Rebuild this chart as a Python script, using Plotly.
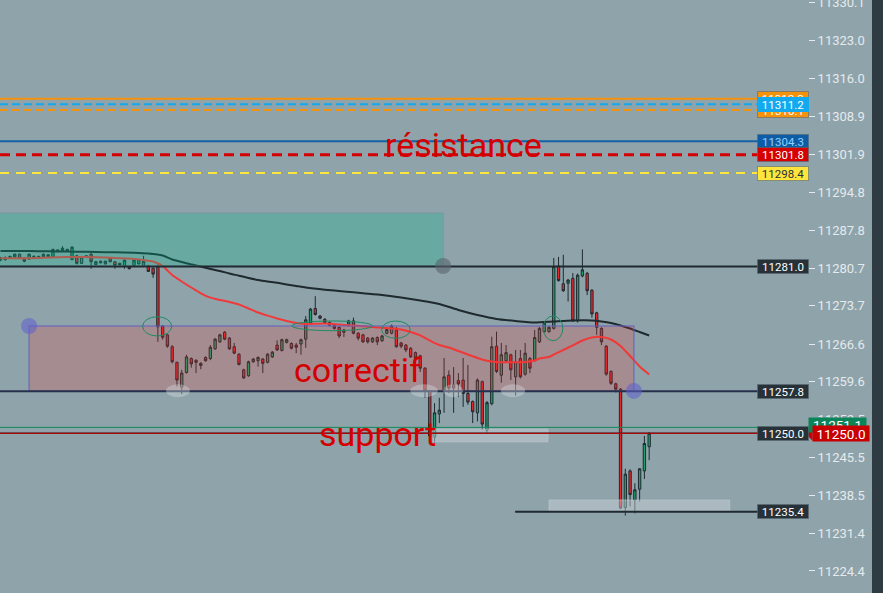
import plotly.graph_objects as go

# ---------------- data ----------------
opens = [
11282.2, 11282.3, 11282.6, 11282.8, 11283.3, 11282.6, 11282.4, 11282.5, 11282.9, 11282.8,
11282.8, 11282.8, 11284.1, 11283.9, 11283.9, 11282.3, 11283.0, 11281.6, 11282.7, 11283.3,
11281.4, 11282.0, 11281.5, 11282.6, 11281.9, 11281.6, 11281.2, 11280.9, 11281.2, 11281.5,
11281.1, 11281.2, 11280.7, 11281.0, 11269.95, 11268.3, 11266.1, 11263.2, 11258.6, 11261.3,
11263.9, 11263.6, 11262.6, 11264.1, 11263.9, 11265.7, 11267.0, 11268.8, 11267.7, 11266.1,
11264.7, 11261.8, 11260.7, 11263.3, 11263.5, 11263.8, 11263.2, 11264.2, 11266.4, 11265.4,
11266.9, 11266.7, 11266.4, 11266.6, 11267.5, 11270.5, 11273.2, 11271.8, 11271.2, 11270.1,
11270.0, 11269.7, 11268.8, 11270.3, 11270.9, 11268.6, 11268.3, 11267.7, 11267.0, 11267.8,
11267.2, 11268.6, 11268.6, 11269.2, 11266.8, 11266.4, 11265.8, 11265.0, 11264.4, 11262.1,
11257.9, 11249.3, 11253.6, 11258.1, 11260.8, 11259.0, 11259.8, 11259.9, 11257.4, 11255.9,
11253.8, 11259.6, 11250.6, 11255.5, 11266.2, 11260.8, 11263.5, 11264.6, 11260.5, 11263.9,
11261.0, 11263.9, 11263.6, 11267.0, 11268.9, 11268.9, 11269.5, 11281.1, 11277.8, 11277.9,
11278.8, 11270.9, 11279.25, 11279.75, 11276.6, 11272.4, 11269.5, 11266.2, 11261.5, 11259.2,
11258.2, 11236.2, 11243.0, 11237.6, 11239.6, 11243.0, 11247.5]

highs = [
11282.8, 11282.9, 11283.0, 11283.4, 11283.4, 11282.7, 11283.4, 11283.1, 11283.0, 11283.4,
11283.3, 11284.3, 11284.2, 11284.8, 11284.3, 11284.8, 11283.2, 11282.9, 11283.1, 11283.5,
11282.0, 11282.1, 11282.1, 11282.7, 11282.0, 11281.7, 11282.3, 11281.0, 11282.3, 11282.4,
11283.0, 11281.3, 11280.8, 11281.4, 11270.1, 11268.4, 11266.4, 11263.3, 11261.8, 11264.6,
11264.1, 11263.7, 11263.2, 11264.3, 11266.4, 11267.7, 11268.5, 11269.0, 11267.9, 11266.8,
11264.9, 11262.0, 11263.5, 11264.0, 11264.3, 11264.0, 11264.9, 11265.3, 11267.3, 11267.6,
11267.6, 11266.9, 11266.8, 11267.6, 11271.8, 11273.3, 11275.5, 11272.0, 11271.4, 11270.8,
11270.2, 11269.9, 11269.4, 11271.1, 11271.5, 11268.8, 11268.5, 11267.9, 11267.9, 11268.0,
11268.3, 11269.5, 11270.2, 11269.8, 11267.0, 11266.6, 11266.0, 11265.2, 11264.6, 11262.3,
11258.0, 11255.6, 11256.6, 11264.0, 11261.7, 11262.3, 11261.2, 11264.0, 11262.7, 11256.1,
11260.2, 11259.8, 11256.0, 11267.95, 11268.9, 11266.8, 11266.4, 11264.8, 11265.5, 11265.5,
11266.8, 11264.2, 11269.2, 11269.8, 11270.7, 11270.0, 11282.6, 11282.8, 11283.2, 11278.7,
11279.8, 11279.7, 11284.2, 11280.0, 11276.8, 11272.6, 11269.7, 11266.4, 11261.7, 11259.4,
11258.4, 11243.4, 11243.3, 11240.7, 11243.5, 11249.5, 11250.2]

lows = [
11282.0, 11282.1, 11282.5, 11282.7, 11282.4, 11281.8, 11282.3, 11282.4, 11282.4, 11282.7,
11282.7, 11282.7, 11283.7, 11283.8, 11283.8, 11282.2, 11281.4, 11281.5, 11282.6, 11280.6,
11281.3, 11281.6, 11281.4, 11281.8, 11280.6, 11281.2, 11280.6, 11280.5, 11281.1, 11281.4,
11281.0, 11280.0, 11278.9, 11267.0, 11267.4, 11265.9, 11263.0, 11258.7, 11257.3, 11261.1,
11262.2, 11261.2, 11261.9, 11263.3, 11263.6, 11265.5, 11266.8, 11267.3, 11265.5, 11264.7,
11262.6, 11260.1, 11260.5, 11263.1, 11262.4, 11261.2, 11263.0, 11264.0, 11265.3, 11265.2,
11266.7, 11265.6, 11264.9, 11264.6, 11265.9, 11270.2, 11271.9, 11271.2, 11270.4, 11269.9,
11269.3, 11267.7, 11267.9, 11269.8, 11268.4, 11267.3, 11266.8, 11266.7, 11266.8, 11266.4,
11267.0, 11268.4, 11268.4, 11265.9, 11265.8, 11265.1, 11264.0, 11263.7, 11261.4, 11256.6,
11248.5, 11248.3, 11251.9, 11253.8, 11257.5, 11253.8, 11256.8, 11254.9, 11255.3, 11251.9,
11252.2, 11250.6, 11250.1, 11255.2, 11261.2, 11259.4, 11263.2, 11259.9, 11257.0, 11260.2,
11260.7, 11261.2, 11263.3, 11266.8, 11268.7, 11268.7, 11269.3, 11278.2, 11276.3, 11274.5,
11270.7, 11270.6, 11279.0, 11275.7, 11271.5, 11268.3, 11266.4, 11260.7, 11259.0, 11257.6,
11235.9, 11234.7, 11236.4, 11235.1, 11237.3, 11241.5, 11245.0]

closes = [
11282.6, 11282.6, 11282.9, 11283.3, 11282.5, 11282.0, 11283.3, 11282.9, 11282.5, 11283.3,
11283.2, 11284.2, 11283.8, 11284.4, 11284.2, 11284.6, 11281.6, 11282.8, 11283.0, 11281.9,
11281.9, 11281.7, 11282.0, 11281.9, 11281.2, 11281.3, 11282.2, 11280.6, 11282.2, 11282.3,
11282.0, 11280.1, 11279.6, 11269.8, 11267.85, 11266.2, 11263.3, 11259.9, 11261.2, 11264.2,
11262.9, 11263.2, 11263.0, 11263.5, 11266.0, 11267.5, 11268.3, 11267.5, 11265.7, 11264.9,
11262.8, 11260.3, 11263.3, 11263.8, 11264.1, 11263.0, 11264.7, 11265.1, 11265.5, 11267.4,
11267.4, 11265.8, 11266.0, 11267.4, 11271.1, 11273.1, 11272.1, 11271.4, 11270.6, 11270.6,
11269.5, 11268.1, 11269.2, 11270.9, 11268.6, 11267.7, 11267.0, 11267.0, 11267.7, 11267.0,
11268.1, 11269.3, 11269.95, 11266.1, 11266.2, 11265.5, 11264.2, 11264.0, 11262.1, 11257.9,
11249.5, 11253.8, 11254.3, 11260.5, 11258.4, 11258.4, 11259.2, 11257.4, 11255.8, 11254.0,
11259.9, 11251.7, 11255.7, 11266.1, 11261.5, 11264.6, 11265.0, 11261.8, 11263.3, 11260.5,
11264.9, 11262.1, 11267.8, 11269.5, 11270.45, 11269.7, 11281.0, 11278.4, 11276.5, 11278.5,
11270.9, 11279.4, 11280.4, 11276.5, 11272.2, 11269.7, 11267.0, 11261.0, 11259.3, 11258.2,
11236.1, 11242.4, 11238.6, 11239.5, 11243.4, 11248.1, 11250.0]

bars = list(range(len(closes)))

ma_dark_idx = [0, 4, 8, 12, 16, 20, 24, 28, 31, 34, 36, 38, 40, 42, 44, 46, 48, 50, 52, 54, 56, 58,
               60, 62, 64, 68, 72, 76, 80, 84, 88, 92, 96, 100, 104, 108, 112, 116, 120, 124, 126,
               128, 130, 132, 134, 136]
ma_dark_val = [11283.90, 11283.90, 11283.86, 11283.81, 11283.77, 11283.71, 11283.66, 11283.58,
               11283.43, 11283.06, 11282.32, 11281.85, 11281.39, 11281.02, 11280.55, 11280.18,
               11279.72, 11279.31, 11278.88, 11278.51, 11278.23, 11277.99, 11277.67, 11277.39,
               11277.11, 11276.70, 11276.37, 11276.04, 11275.72, 11275.25, 11274.70, 11274.05,
               11272.93, 11272.00, 11271.26, 11270.88, 11270.60, 11270.79, 11270.97, 11270.97,
               11270.79, 11270.51, 11270.05, 11269.49, 11268.84, 11268.19]

ma_red_idx = [0, 4, 8, 12, 16, 20, 24, 28, 30, 32, 34, 35, 36, 38, 40, 42, 44, 46, 48, 50, 52, 54,
              56, 58, 60, 62, 64, 68, 72, 76, 80, 84, 86, 88, 90, 92, 94, 96, 98, 100, 102, 104,
              106, 108, 110, 112, 113, 115, 116, 118, 120, 122, 124, 126, 128, 130, 132, 134, 136]
ma_red_val = [11282.54, 11282.54, 11282.60, 11282.73, 11282.78, 11282.73, 11282.60, 11282.41,
              11282.22, 11281.95, 11281.11, 11280.27, 11279.44, 11278.23, 11277.11, 11276.03,
              11275.22, 11274.79, 11274.42, 11273.95, 11273.21, 11272.46, 11271.87, 11271.35,
              11270.88, 11270.51, 11270.33, 11270.42, 11270.14, 11269.90, 11269.62, 11269.30,
              11268.84, 11268.19, 11267.26, 11266.42, 11265.95, 11265.30, 11264.66, 11264.00,
              11263.50, 11263.26, 11263.20, 11263.20, 11263.26, 11263.54, 11263.91, 11264.19,
              11264.65, 11265.49, 11266.33, 11267.26, 11267.82, 11267.91, 11267.44, 11266.24,
              11264.38, 11262.42, 11260.93]

tick_vals = [11330.1, 11323.0, 11316.0, 11308.9, 11301.9, 11294.8, 11287.8, 11280.7, 11273.7,
             11266.6, 11259.6, 11252.5, 11245.5, 11238.5, 11231.4, 11224.4]
tick_text = ["%.1f" % v for v in tick_vals]

# horizontal levels
level_vals = [11312.2, 11310.1, 11311.2, 11304.3, 11301.8, 11298.4, 11281.0, 11257.8, 11251.1, 11250.0]
level_colors = ["#f5920b", "#f5920b", "#12a9ef", "#1461a8", "#d50000", "#ffe53b",
                "#1f2a30", "#27304a", "#13895a", "#1f2a30"]
level_dash = ["solid", "7px,5px", "8px,4px", "solid", "10px,6px", "9px,7px",
              "solid", "solid", "solid", "solid"]
level_width = [2, 2, 2, 2, 3, 2, 2, 2, 1, 1.5]
label_bg = ["#f5920b", "#f5920b", "#12a9ef", "#0d5ca6", "#d50000", "#ffe53b",
            "#263238", "#263238", None, "#263238"]
label_fg = ["#ffffff", "#ffffff", "#ffffff", "#8fd0ff", "#ffffff", "#263238",
            "#ffffff", "#ffffff", None, "#ffffff"]

support_low = 11235.4
last_price = 11250.0
green_price = 11251.1

# ---------------- figure ----------------
X0, X1 = -0.1, 169.3
Y0, Y1 = 11220.3, 11330.57
BG = "#8fa3aa"
EDGE = "#2f3b43"
PW = 808.0  # plot width in px

fig = go.Figure()
fig.add_trace(go.Candlestick(
    x=bars, open=opens, high=highs, low=lows, close=closes,
    increasing=dict(line=dict(color="#1f2a30", width=1), fillcolor="#1d9e6b"),
    decreasing=dict(line=dict(color="#1f2a30", width=1), fillcolor="#e8262a"),
    hoverinfo="skip", showlegend=False))
fig.add_trace(go.Scatter(x=ma_dark_idx, y=ma_dark_val, mode="lines",
                         line=dict(color="#1e2a2e", width=2, shape="spline", smoothing=0.6),
                         hoverinfo="skip"))
fig.add_trace(go.Scatter(x=ma_red_idx, y=ma_red_val, mode="lines",
                         line=dict(color="#f03a3a", width=2, shape="spline", smoothing=0.6),
                         hoverinfo="skip"))

shapes = []
shapes.append(dict(type="rect", xref="x", yref="y", x0=-1, x1=92.8, y0=11281.1, y1=11290.96,
                   fillcolor="rgba(0,190,140,0.27)", line=dict(color="rgba(120,150,160,0.9)", width=1),
                   layer="above"))
shapes.append(dict(type="rect", xref="x", yref="y", x0=6.0, x1=132.8, y0=11257.87, y1=11269.95,
                   fillcolor="rgba(250,50,45,0.2)", line=dict(color="rgba(100,100,190,0.7)", width=1.5),
                   layer="above"))
shapes.append(dict(type="rect", xref="x", yref="y", x0=90.7, x1=114.8, y0=11248.4, y1=11250.8,
                   fillcolor="rgba(205,215,220,0.45)", line=dict(color="rgba(190,200,205,0.6)", width=1),
                   layer="above"))
shapes.append(dict(type="rect", xref="x", yref="y", x0=115.0, x1=152.9, y0=11235.4, y1=11237.6,
                   fillcolor="rgba(205,215,220,0.45)", line=dict(color="rgba(190,200,205,0.6)", width=1),
                   layer="above"))
for v, c, d, w in zip(level_vals, level_colors, level_dash, level_width):
    shapes.append(dict(type="line", xref="paper", yref="y", x0=0, x1=1, y0=v, y1=v,
                       line=dict(color=c, width=w, dash=d), layer="above"))
shapes.append(dict(type="line", xref="paper", yref="y", x0=0, x1=1, y0=last_price, y1=last_price,
                   line=dict(color="#d00000", width=1), layer="above"))
shapes.append(dict(type="line", xref="x", yref="y", x0=107.9, x1=X1, y0=support_low, y1=support_low,
                   line=dict(color="#1f2a30", width=2), layer="above"))
for (a, b, c, d) in [(29.8, 35.9, 11268.09, 11271.68), (61.1, 78.0, 11269.08, 11270.88),
                     (79.9, 85.9, 11267.66, 11270.88), (113.8, 117.9, 11267.22, 11271.81)]:
    shapes.append(dict(type="circle", xref="x", yref="y", x0=a, x1=b, y0=c, y1=d,
                       line=dict(color="#1f8a63", width=1), layer="above"))
for (a, b) in [(34.7, 39.7), (85.9, 91.7), (92.8, 97.0), (104.9, 110.0)]:
    shapes.append(dict(type="circle", xref="x", yref="y", x0=a, x1=b, y0=11256.7, y1=11259.1,
                       fillcolor="rgba(220,228,232,0.35)", line=dict(width=0), layer="above"))
for (cx, cy, col) in [(6.0, 11269.95, "rgba(95,95,205,0.55)"), (132.8, 11257.87, "rgba(95,95,205,0.55)"),
                      (92.8, 11281.11, "rgba(90,100,110,0.6)")]:
    shapes.append(dict(type="circle", xref="x", yref="y", x0=cx - 1.68, x1=cx + 1.68,
                       y0=cy - 1.49, y1=cy + 1.49, fillcolor=col, line=dict(width=0), layer="above"))
# dark right border of the price scale
shapes.append(dict(type="rect", xref="paper", yref="paper", x0=872 / PW, x1=890 / PW, y0=-0.05, y1=1.05,
                   fillcolor=EDGE, line=dict(width=0), layer="above"))


def py(v):
    return (v - Y0) / (Y1 - Y0)


annotations = []
for v, bg, fg in zip(level_vals, label_bg, label_fg):
    if bg is None:
        continue
    annotations.append(dict(xref="paper", yref="y", x=757 / PW, y=v, xanchor="left", yanchor="middle",
                            text="%.1f" % v, showarrow=False, bgcolor=bg, bordercolor="rgba(90,105,115,0.6)",
                            borderwidth=1, borderpad=1, width=48, height=11,
                            font=dict(family="Roboto", size=11.5, color=fg)))
annotations.append(dict(xref="paper", yref="y", x=757 / PW, y=11311.2, xanchor="left", yanchor="middle",
                        text="11311.2", showarrow=False, bgcolor="#12a9ef", borderwidth=1,
                        bordercolor="#12a9ef", borderpad=1, width=48, height=11,
                        font=dict(family="Roboto", size=11.5, color="#ffffff")))
annotations.append(dict(xref="paper", yref="y", x=757 / PW, y=support_low, xanchor="left", yanchor="middle",
                        text="%.1f" % support_low, showarrow=False, bgcolor="#263238",
                        bordercolor="rgba(90,105,115,0.6)", borderwidth=1, borderpad=1, width=48, height=11,
                        font=dict(family="Roboto", size=11.5, color="#ffffff")))
annotations.append(dict(xref="paper", yref="y", x=1.0, y=11251.45, xanchor="left", yanchor="middle",
                        text="%.1f" % green_price, showarrow=False, bgcolor="#0b8459",
                        borderpad=1, width=55, height=12,
                        font=dict(family="Roboto", size=13.5, color="#ffffff")))
annotations.append(dict(xref="paper", yref="y", x=1.005, y=last_price, xanchor="left", yanchor="middle",
                        text="%.1f" % last_price, showarrow=False, bgcolor="#c80000",
                        borderpad=1, width=54, height=13,
                        font=dict(family="Roboto", size=13.5, color="#ffffff")))
for txt, x, y in [("résistance", 96.97, 11303.55), ("correctif", 74.95, 11261.72), ("support", 78.94, 11249.82)]:
    annotations.append(dict(xref="x", yref="y", x=x, y=y, text=txt, showarrow=False,
                            xanchor="center", yanchor="middle",
                            font=dict(family="Roboto", size=34, color="#d40000")))

shapes.append(dict(type="path", xref="paper", yref="paper",
                   path="M 1.0056,%.5f L 0.9966,%.5f L 1.0056,%.5f Z" % (py(11251.4), py(last_price), py(11248.6)),
                   fillcolor="#c80000", line=dict(width=0), layer="above"))

fig.update_layout(
    width=883, height=593,
    margin=dict(l=0, r=75, t=0, b=0),
    paper_bgcolor=BG, plot_bgcolor=BG,
    showlegend=False,
    xaxis=dict(range=[X0, X1], visible=False, rangeslider=dict(visible=False), fixedrange=True),
    yaxis=dict(range=[Y0, Y1], side="right", tickvals=tick_vals, ticktext=tick_text,
               ticks="outside", ticklen=6, tickwidth=1, tickcolor="#e4eaed",
               ticklabeloverflow="allow",
               tickfont=dict(family="Roboto", size=13, color="#e4eaed"),
               showgrid=False, zeroline=False, showline=False, automargin=False, fixedrange=True),
    shapes=shapes, annotations=annotations,
)

fig.write_html("out.html", config={"displayModeBar": False},
               post_script="document.documentElement.style.overflow='hidden';"
                           "document.body.style.overflow='hidden';"
                           "document.body.style.margin='0';document.body.style.padding='0';"
                           "document.documentElement.style.background='%s';"
                           "document.body.style.background='%s';" % (EDGE, EDGE))
